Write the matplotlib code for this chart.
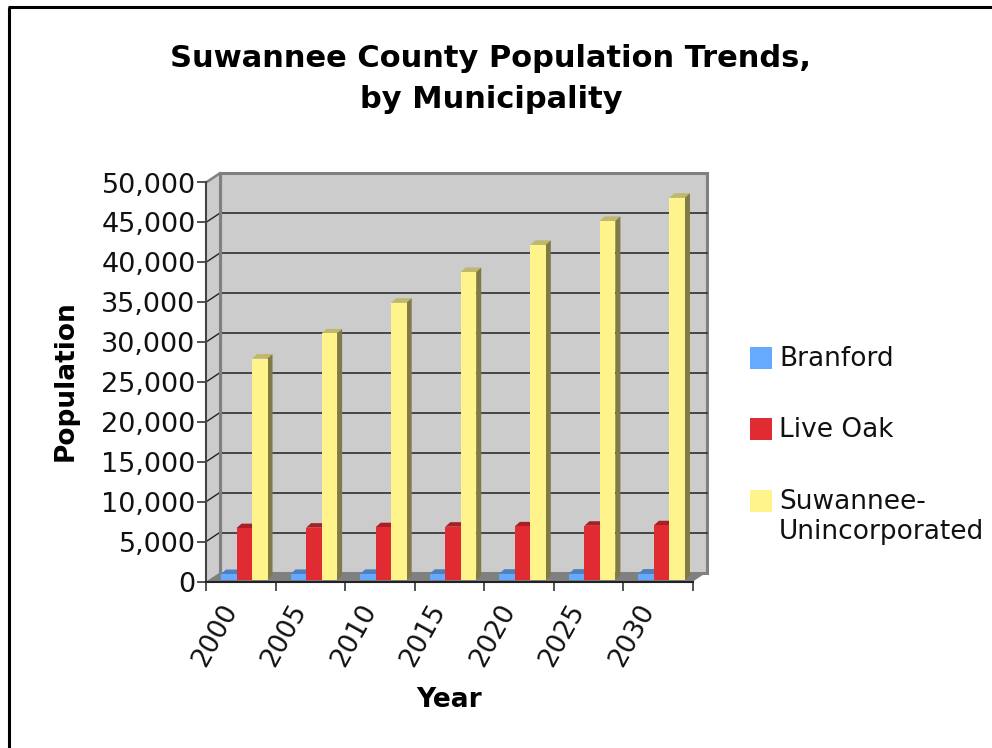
import matplotlib
matplotlib.use("Agg")
import matplotlib.pyplot as plt
from matplotlib.lines import Line2D
from matplotlib.patches import Polygon, Rectangle
from matplotlib.transforms import Affine2D

years = ["2000", "2005", "2010", "2015", "2020", "2025", "2030"]
branford = [750, 760, 770, 780, 790, 800, 810]
live_oak = [6500, 6560, 6620, 6680, 6720, 6800, 6860]
suwannee = [27750, 30900, 34750, 38600, 42000, 45000, 47900]
y_ticks = [0, 5000, 10000, 15000, 20000, 25000, 30000, 35000, 40000, 45000, 50000]

W, H = 992, 748
fig = plt.figure(figsize=(W / 100, H / 100), dpi=100, facecolor="white")
plt.rcParams["font.family"] = "DejaVu Sans"
L, R, T, B = 206, 693, 182.5, 581.5
ax = fig.add_axes([L / W, 1 - B / H, (R - L) / W, (B - T) / H])
ax.set_xlim(0, 7)
ax.set_ylim(0, 50000)
ax.patch.set_visible(False)
for s in ax.spines.values():
    s.set_visible(False)

DX, DY = 13.5, 9
px_x = 7 / (R - L)
px_y = 50000 / (B - T)
dx, dy = DX * px_x, DY * px_y

WALL = "#cccccc"
GREY = "#808080"
# back and side walls
ax.add_patch(Rectangle((dx, dy), 7, 50000, fc=WALL, ec=GREY, lw=2.2, zorder=1, clip_on=False))
ax.add_patch(Polygon([(0, 0), (dx, dy), (dx, 50000 + dy), (0, 50000)], fc=WALL, ec="none", zorder=1, clip_on=False))
ax.plot([0, dx], [50000, 50000 + dy], color=GREY, lw=1.8, zorder=1.5, clip_on=False)
ax.plot([dx, dx], [dy, 50000 + dy], color=GREY, lw=2.2, zorder=1.8, clip_on=False)
ax.add_patch(Polygon([(0, 0), (dx, dy), (7 + dx, dy), (7, 0)], fc=GREY, ec="none", zorder=2, clip_on=False))

# grid lines on back and side walls
for v in y_ticks[1:-1]:
    ax.plot([dx, 7 + dx], [v + dy, v + dy], color="#222222", lw=1.1, zorder=1.7, clip_on=False)
    ax.plot([0, dx], [v, v + dy], color="#222222", lw=1.0, zorder=1.7, clip_on=False)

# axes lines
ax.plot([0, 0], [0, 50000], color="#444444", lw=1.5, zorder=5, clip_on=False)
ax.plot([0, 7], [0, 0], color="#222222", lw=1.5, zorder=5, clip_on=False)

# bars
bw = 15.5 * px_x
d_x, d_y = 5 * px_x, 4.5 * px_y
sx, sy = 3.5, 1.5
shift = ax.transData + Affine2D().translate(sx, sy)
series = [
    (branford, "#66aaff", "#4c80c0", "#4c80c0", "Branford"),
    (live_oak, "#e02b33", "#a81f26", "#a81f26", "Live Oak"),
    (suwannee, "#fff48c", "#bfb769", "#807a46", "Suwannee-\nUnincorporated"),
]
for j, (vals, front, top, side, name) in enumerate(series):
    for i, v in enumerate(vals):
        x0 = i + 0.5 + (j - 1.5) * bw
        x1 = x0 + bw
        ax.add_patch(Polygon([(x0, v), (x0 + d_x, v + d_y), (x1 + d_x, v + d_y), (x1, v)],
                             fc=top, ec="none", zorder=3 + j * 0.1, transform=shift, clip_on=False))
        ax.add_patch(Polygon([(x1, 0), (x1 + d_x, d_y), (x1 + d_x, v + d_y), (x1, v)],
                             fc=side, ec="none", zorder=3 + j * 0.1, transform=shift, clip_on=False))
        ax.bar(i + 0.5 + (j - 1) * bw, v, bw, color=front, zorder=3.05 + j * 0.1,
               transform=shift, clip_on=False)
ax.set_xlim(0, 7)
ax.set_ylim(0, 50000)

# ticks and labels
ax.set_yticks(y_ticks)
ax.set_yticklabels([f"{v:,}" for v in y_ticks], fontsize=19.5, color="#111111")
ax.tick_params(axis="y", length=6.5, width=1.3, color="#444444", pad=1)
ax.set_xticks(range(8))
ax.set_xticklabels([""] * 8)
ax.tick_params(axis="x", length=6.5, width=1.3, color="#444444")
for i, y in enumerate(years):
    ax.text(i + 0.5, 0, y, rotation=61, fontsize=19, ha="center", va="center", color="#111111",
            transform=ax.transData + Affine2D().translate(-26, -54), clip_on=False)

fig.text(449 / W, 1 - 700 / H, "Year", fontsize=19, fontweight="bold", ha="center", va="center")
fig.text(66 / W, 1 - 381 / H, "Population", fontsize=19, fontweight="bold", rotation=90, ha="center", va="center")
fig.text(491 / W, 1 - 79 / H, "Suwannee County Population Trends,\nby Municipality", fontsize=22,
         fontweight="bold", ha="center", va="center", linespacing=1.5)

# legend
for (vals, front, top, side, name), yc in zip(series, [358, 429, 501]):
    fig.patches.append(Rectangle((750 / W, 1 - (yc + 11) / H), 22 / W, 22 / H, fc=front, ec="none",
                                 transform=fig.transFigure))
    if "\n" in name:
        fig.text(779 / W, 1 - (yc - 12) / H, name, fontsize=19, va="top", linespacing=1.2, color="#111111")
    else:
        fig.text(779 / W, 1 - (yc + 1) / H, name, fontsize=19, va="center", color="#111111")

# chart-area border (top and left edges)
fig.add_artist(Line2D([8.5 / W, 8.5 / W], [0, 1 - 6.5 / H], color="black", lw=2.2, solid_capstyle="butt"))
fig.add_artist(Line2D([7.5 / W, 1], [1 - 6.5 / H, 1 - 6.5 / H], color="black", lw=2.2, solid_capstyle="butt"))

fig.savefig("out.png", dpi=100, facecolor="white")
